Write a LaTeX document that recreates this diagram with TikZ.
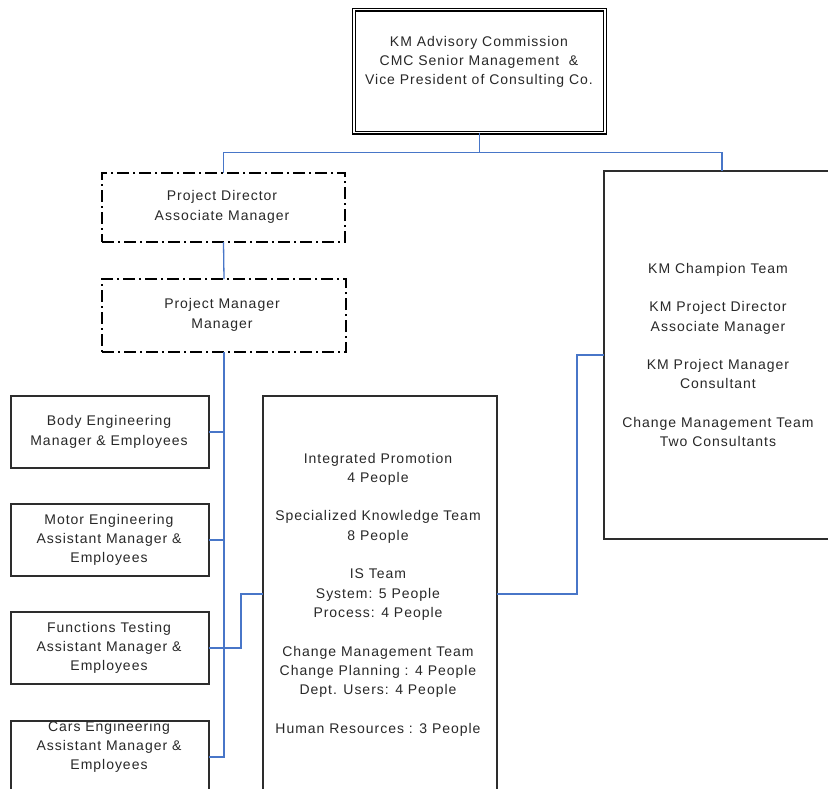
\documentclass[tikz,border=0pt]{standalone}
\usepackage{fontspec}
\setmainfont{Liberation Sans}[LetterSpace=7]
\begin{document}
\definecolor{boxline}{RGB}{45,45,45}
\definecolor{linkblue}{RGB}{72,118,200}
\definecolor{txt}{RGB}{40,40,40}
\begin{tikzpicture}[x=1pt,y=-1pt,
  plainbox/.style={draw=boxline,line width=1.2pt,inner sep=0pt,outer sep=0pt},
  headbox/.style={draw=black,line width=1.2pt,double,double distance=1.6pt,inner sep=0pt,outer sep=0pt},
  dashbox/.style={draw=black,line width=2.2pt,dash pattern=on 12pt off 4pt on 2pt off 4pt,inner sep=0pt,outer sep=0pt},
  label/.style={text=txt,align=center,inner sep=0pt,font=\fontsize{14pt}{19.3pt}\selectfont},
  link/.style={draw=linkblue,line width=1.3pt}]
\clip (0,0) rectangle (828,788);
\fill[white] (0,0) rectangle (828,788);

% boxes
\node[headbox,minimum width=251pt,minimum height=123pt] (top) at (479.5,71) {};
\node[dashbox,minimum width=243pt,minimum height=69pt] (pd) at (223.5,207.5) {};
\node[dashbox,minimum width=244pt,minimum height=73pt] (pm) at (224,315.5) {};
\node[plainbox,minimum width=198pt,minimum height=72pt] (body) at (110,432) {};
\node[plainbox,minimum width=198pt,minimum height=72pt] (motor) at (110,540) {};
\node[plainbox,minimum width=198pt,minimum height=72pt] (func) at (110,648) {};
\node[plainbox,minimum width=198pt,minimum height=72pt] (cars) at (110,757) {};
\node[plainbox,minimum width=234pt,minimum height=396pt] (mid) at (380,594) {};
\node[plainbox,minimum width=236pt,minimum height=368pt] (champ) at (722,355) {};

% texts
\node[label] (toptxt) at (479,62) {KM Advisory Commission\\CMC Senior Management \ \&\\Vice President of Consulting Co.};
\node[label] (pdtxt) at (222,207) {Project Director\\Associate Manager};
\node[label] (pmtxt) at (222,315) {Project Manager\\Manager};
\node[label] (bodytxt) at (109,432) {Body Engineering\\Manager \& Employees};
\node[label] (motortxt) at (109,540) {Motor Engineering\\Assistant Manager \&\\Employees};
\node[label] (functxt) at (109,648) {Functions Testing\\Assistant Manager \&\\Employees};
\node[label] (carstxt) at (109,747) {Cars Engineering\\Assistant Manager \&\\Employees};
\node[label] (midtxt) at (378,594.5) {Integrated Promotion\\4 People\\[19.3pt]
  Specialized Knowledge Team\\8 People\\[19.3pt]
  IS Team\\System: 5 People\\Process: 4 People\\[19.3pt]
  Change Management Team\\Change Planning : 4 People\\Dept. Users: 4 People\\[19.3pt]
  Human Resources : 3 People};
\node[label] (champtxt) at (718,355) {KM Champion Team\\[19.3pt]
  KM Project Director\\Associate Manager\\[19.3pt]
  KM Project Manager\\Consultant\\[19.3pt]
  Change Management Team\\Two Consultants};

% connectors
\draw[link] (top.south) -- ++(0,20) -| (pd.north);
\draw[link] (top.south) -- ++(0,20) -| (champ.north);
\draw[link] (pd.south) -- (pm.north);
\draw[link] (pm.south) |- (cars.east);
\draw[link] (body.east) -- (body.east -| pm.south);
\draw[link] (motor.east) -- (motor.east -| pm.south);
\draw[link] (func.east) -- ++(32,0) |- (mid.west);
\draw[link] (mid.east) -- ++(80,0) |- (champ.west);
\end{tikzpicture}
\end{document}
